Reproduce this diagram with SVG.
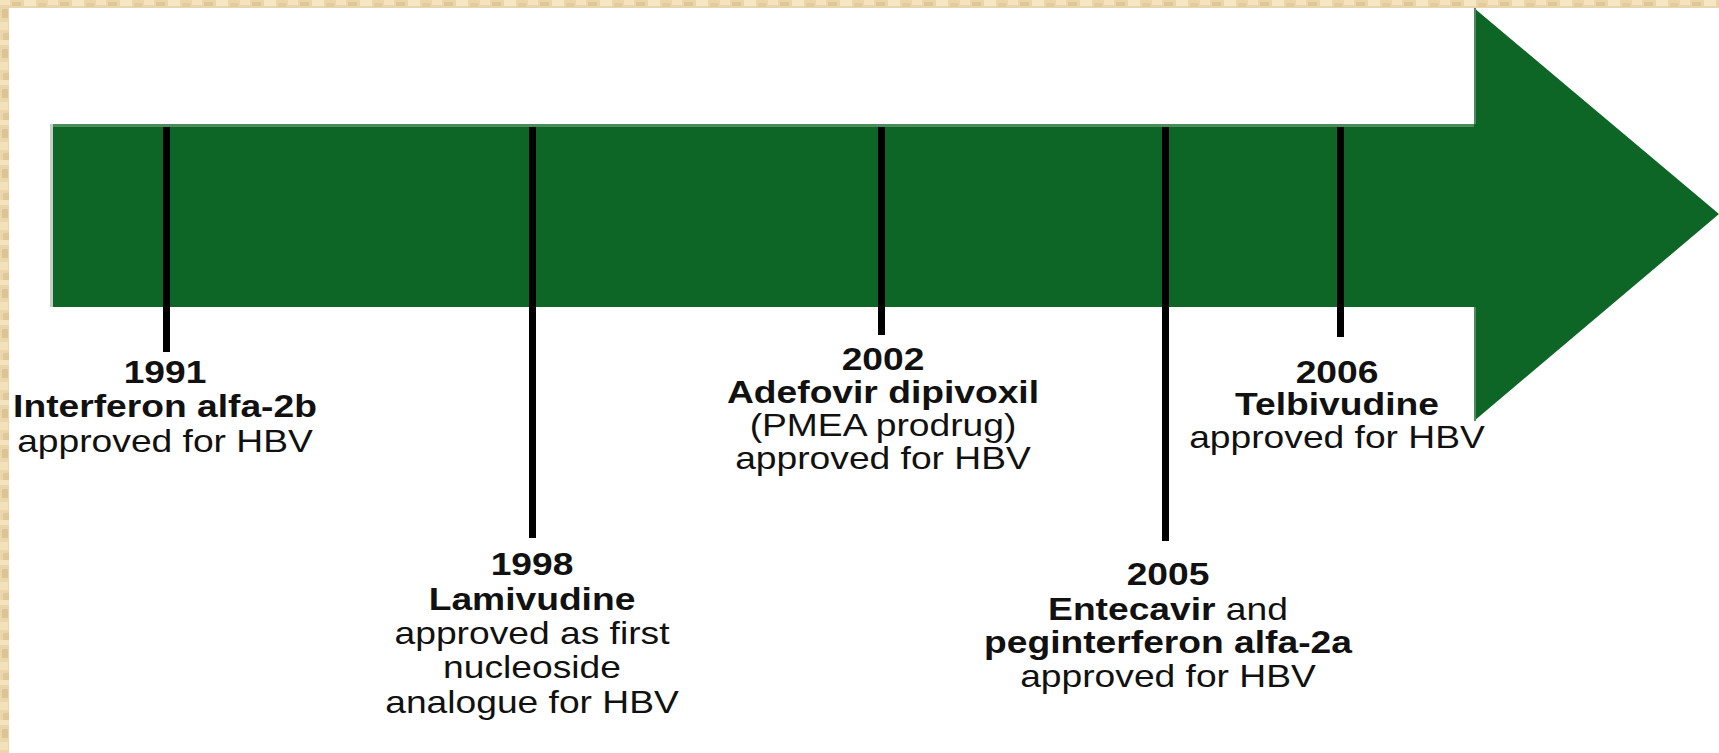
<svg xmlns="http://www.w3.org/2000/svg" width="1719" height="753" viewBox="0 0 1719 753">
<style>
  .t { font-family: "Liberation Sans", Arial, sans-serif; font-size: 31px; fill: #111; text-anchor: middle; }
  .b { font-weight: bold; }
  .tick { stroke: #000; stroke-width: 7; }
</style>
<defs>
  <pattern id="parch" width="48" height="40" patternUnits="userSpaceOnUse">
    <rect width="48" height="40" fill="#EAD6AA"/>
    <rect x="0" y="0" width="10" height="5" fill="#F3E3BE"/>
    <rect x="12" y="2" width="9" height="4" fill="#DFC797"/>
    <rect x="24" y="0" width="12" height="6" fill="#F5E7C4"/>
    <rect x="38" y="3" width="8" height="4" fill="#E2CB9C"/>
    <rect x="2" y="9" width="6" height="9" fill="#DDC493"/>
    <rect x="16" y="12" width="12" height="6" fill="#F0DEB4"/>
    <rect x="34" y="14" width="10" height="7" fill="#DCC291"/>
    <rect x="0" y="22" width="8" height="8" fill="#F2E1BA"/>
    <rect x="12" y="26" width="10" height="8" fill="#E3CD9F"/>
    <rect x="28" y="28" width="12" height="6" fill="#F4E5C1"/>
    <rect x="3" y="33" width="7" height="7" fill="#E0C898"/>
  </pattern>
</defs>
<rect x="0" y="0" width="1719" height="753" fill="url(#parch)"/>
<rect x="9" y="8" width="1710" height="745" fill="#FFFFFF"/>

<g id="arrow">
  <polygon points="50,124 1474,124 1474,8 1719,214 1474,421 1474,307 50,307" fill="#0E6626"/>
  <line x1="50" y1="125.5" x2="1474" y2="125.5" stroke="#4C8B5C" stroke-width="3"/>
  <line x1="51.5" y1="124" x2="51.5" y2="307" stroke="#C8CCC8" stroke-width="3"/>
  <line x1="1475" y1="8" x2="1475" y2="124" stroke="#4C8B5C" stroke-width="2"/>
  <line x1="1475" y1="307" x2="1475" y2="421" stroke="#4C8B5C" stroke-width="2"/>
</g>

<g id="connectors">
  <line class="tick" x1="166.5" y1="127" x2="166.5" y2="352"/>
  <line class="tick" x1="532.5" y1="127" x2="532.5" y2="538"/>
  <line class="tick" x1="881.5" y1="127" x2="881.5" y2="335"/>
  <line class="tick" x1="1165.5" y1="127" x2="1165.5" y2="541"/>
  <line class="tick" x1="1340.5" y1="127" x2="1340.5" y2="337"/>
</g>

<g id="n1991" transform="translate(165,0) scale(1.2,1)">
  <text class="t b" x="0" y="383">1991</text>
  <text class="t b" x="0" y="417">Interferon alfa-2b</text>
  <text class="t" x="0" y="452">approved for HBV</text>
</g>

<g id="n1998" transform="translate(532,0) scale(1.2,1)">
  <text class="t b" x="0" y="575">1998</text>
  <text class="t b" x="0" y="610">Lamivudine</text>
  <text class="t" x="0" y="644">approved as first</text>
  <text class="t" x="0" y="678">nucleoside</text>
  <text class="t" x="0" y="713">analogue for HBV</text>
</g>

<g id="n2002" transform="translate(883,0) scale(1.2,1)">
  <text class="t b" x="0" y="370">2002</text>
  <text class="t b" x="0" y="403">Adefovir dipivoxil</text>
  <text class="t" x="0" y="436">(PMEA prodrug)</text>
  <text class="t" x="0" y="469">approved for HBV</text>
</g>

<g id="n2005" transform="translate(1168,0) scale(1.2,1)">
  <text class="t b" x="0" y="585">2005</text>
  <text class="t" x="0" y="620"><tspan font-weight="bold">Entecavir</tspan> and</text>
  <text class="t b" x="0" y="653">peginterferon alfa-2a</text>
  <text class="t" x="0" y="687">approved for HBV</text>
</g>

<g id="n2006" transform="translate(1337,0) scale(1.2,1)">
  <text class="t b" x="0" y="383">2006</text>
  <text class="t b" x="0" y="415">Telbivudine</text>
  <text class="t" x="0" y="448">approved for HBV</text>
</g>
</svg>
